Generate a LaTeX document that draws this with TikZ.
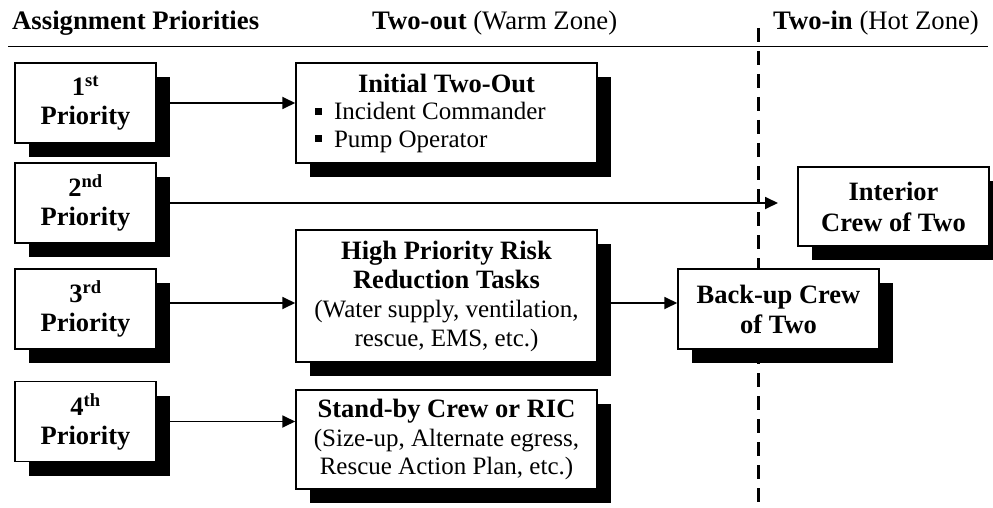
\documentclass[tikz,border=0pt]{standalone}
\usepackage{fontspec}
\setmainfont{Liberation Serif}
\usetikzlibrary{arrows.meta,shadows}
\newcommand\bftxt[2]{{\fontsize{26.5}{#1}\selectfont\bfseries #2}}
\begin{document}
\begin{tikzpicture}[x=1pt,y=-1pt,
  every node/.style={font=\fontsize{25}{29}\selectfont, inner sep=0pt},
  sbox/.style={draw, line width=1.5pt, fill=white, align=center,
    drop shadow={shadow xshift=14pt, shadow yshift=-14pt, fill=black, opacity=1}},
  pbox/.style={sbox, minimum width=141pt, minimum height=80pt,
    font=\fontsize{26.5}{29}\selectfont\bfseries},
  wbox/.style={sbox, minimum width=301pt},
  hdr/.style={anchor=base west, font=\fontsize{26.7}{29}\selectfont},
  arr/.style={line width=1.8pt, -{Triangle[length=13pt,width=12pt]}},
  zone/.style={line width=3pt, dash pattern=on 14pt off 9pt},
]
\useasboundingbox (0,0) rectangle (993,508);

% headers
\node[hdr] (h1) at (12,30) {\textbf{Assignment Priorities}};
\node[hdr] (h2) at (372,30) {\textbf{Two-out} (Warm Zone)};
\node[hdr] (h3) at (773,30) {\textbf{Two-in} (Hot Zone)};
\coordinate (rl) at (8,47);
\coordinate (rr) at (988,47);
\draw[line width=1pt] (rl) -- (rr);

% zone divider
\coordinate (dtop) at (758,28);
\coordinate (dbot) at (758,508);
\draw[zone] (dtop) -- (dbot);

% priority boxes
\node[pbox] (p1) at (85.5,103) {1\textsuperscript{st}\\Priority};
\node[pbox] (p2) at (85.5,203) {2\textsuperscript{nd}\\Priority};
\node[pbox] (p3) at (85.5,309) {3\textsuperscript{rd}\\Priority};
\node[pbox] (p4) at (85.5,421.5) {4\textsuperscript{th}\\Priority};

% warm zone boxes
\node[wbox, minimum height=100pt, font=\fontsize{25}{27.5}\selectfont] (init) at (446.5,113)
  {\bftxt{27.5}{Initial Two-Out}\\
   \makebox[263pt][l]{\rule[5pt]{7pt}{7pt}\hspace{12pt}Incident Commander}\\
   \makebox[263pt][l]{\rule[5pt]{7pt}{7pt}\hspace{12pt}Pump Operator}};
\node[wbox, minimum height=132pt] (hp) at (446.5,296)
  {\bftxt{29}{High Priority Risk}\\\bftxt{29}{Reduction Tasks}\\(Water supply, ventilation,\\rescue, EMS, etc.)};
\node[wbox, minimum height=99pt, font=\fontsize{25}{28.5}\selectfont] (sb) at (446.5,439.5)
  {\bftxt{28.5}{Stand-by Crew or RIC}\\(Size-up, Alternate egress,\\Rescue Action Plan, etc.)};

% hot zone boxes
\node[sbox, minimum width=191pt, minimum height=79pt, font=\fontsize{26.5}{31}\selectfont\bfseries] (ic) at (893.5,206.5)
  {Interior\\Crew of Two};
\node[sbox, minimum width=201pt, minimum height=80pt, font=\fontsize{26.5}{30}\selectfont\bfseries] (bk) at (778.5,309)
  {Back-up Crew\\of Two};

% connectors
\coordinate (a2end) at (778,203);
\draw[arr] (p1.east) -- (p1.east -| init.west);
\draw[arr] (p2.east) -- (a2end);
\draw[arr] ([yshift=6pt]p3.east) -- ([yshift=6pt]p3.east -| hp.west);
\draw[arr] ([yshift=6pt]bk.west -| hp.east) -- ([yshift=6pt]bk.west);
\draw[arr] (p4.east) -- (p4.east -| sb.west);
\end{tikzpicture}
\end{document}
